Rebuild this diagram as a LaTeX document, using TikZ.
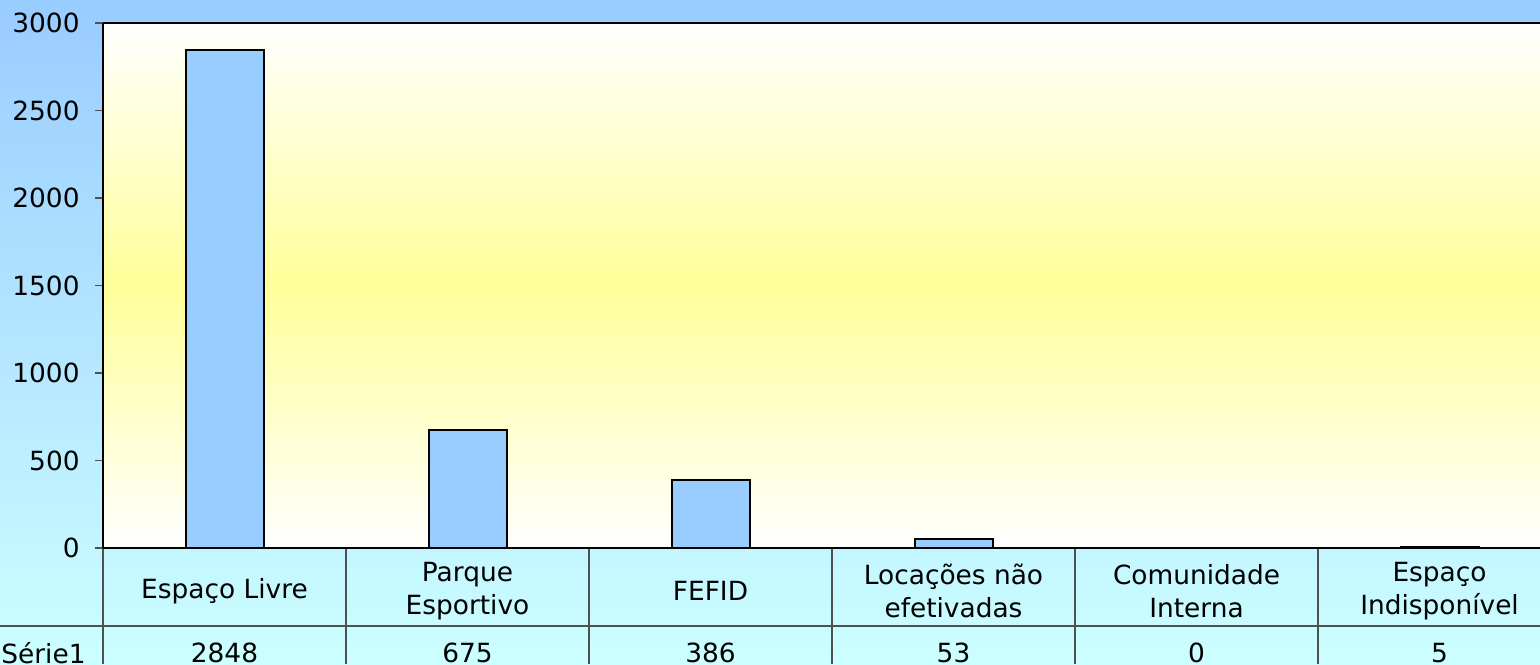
\documentclass[tikz,border=0pt]{standalone}
\usepackage{fontspec}
\setmainfont{DejaVu Sans}
\definecolor{bgtop}{HTML}{99CCFF}
\definecolor{bgbottom}{HTML}{CCFFFF}
\definecolor{plotyellow}{HTML}{FFFF99}
\definecolor{barblue}{HTML}{99CCFF}
\definecolor{tablegray}{HTML}{505050}
\begin{document}
\begin{tikzpicture}[
                x = 0.5pt,
                y = -0.5pt,
                lbl/.style = {
                    font = \fontsize{13.2}{16.5}\selectfont,
                    inner sep = 0pt,
                    align = center
                },
                bar/.style = {
                    draw = black,
                    line width = 1pt,
                    fill = barblue
                },
                axisline/.style = {draw = black, line width = 1.1pt},
                tablegrid/.style = {draw = tablegray, line width = 0.6pt}
            ]
            \useasboundingbox (0,0) rectangle (1540,664);
            \clip (0,0) rectangle (1540,664);
            % background
            \shade[top color=bgtop, bottom color=bgbottom] (0,0) rectangle (1540,664);
            \shade[top color=white, bottom color=plotyellow] (103,23) rectangle (1540,286);
            \shade[top color=plotyellow, bottom color=white] (103,285) rectangle (1540,548);
            % 
            % bars
            \foreach \val [count=\i] in {2848,675,386,53,0,5} {
                \pgfmathsetmacro\cx{103+243*(\i-0.5)}
                \draw[bar] (\cx-39,548) rectangle (\cx+39,548-0.175*\val);
                \node[lbl] (val\i) at (\cx,653) {\val};
            }
            % 
            % y axis
            \foreach \v in {0,500,...,3000} {
                \draw[tablegrid] (95,548-0.175*\v) -- (103,548-0.175*\v);
                \node[lbl, anchor=east] (y\v) at (80,548-0.175*\v) {\v};
            }
            % 
            % table
            \draw[tablegrid] (0,626) -- (1540,626);
            \foreach \k in {0,...,5} {
                \draw[tablegrid] (103+243*\k,548) -- (103+243*\k,664);
            }
            \node[lbl] (cat1) at (224.5,591) {Espaço Livre};
            \node[lbl] (cat2) at (467.5,591) {Parque\\Esportivo};
            \node[lbl] (cat3) at (710.5,591) {FEFID};
            \node[lbl] (cat4) at (953.5,591) {Locações não\\efetivadas};
            \node[lbl] (cat5) at (1196.5,591) {Comunidade\\Interna};
            \node[lbl] (cat6) at (1439.5,591) {Espaço\\Indisponível};
            \node[lbl, anchor=west] (serie) at (1,653) {Série1};
            % 
            % frame
            \draw[axisline] (103,23) -- (1540,23);
            \draw[axisline] (103,23) -- (103,548);
            \draw[axisline] (103,548) -- (1540,548);
        \end{tikzpicture}
\end{document}
